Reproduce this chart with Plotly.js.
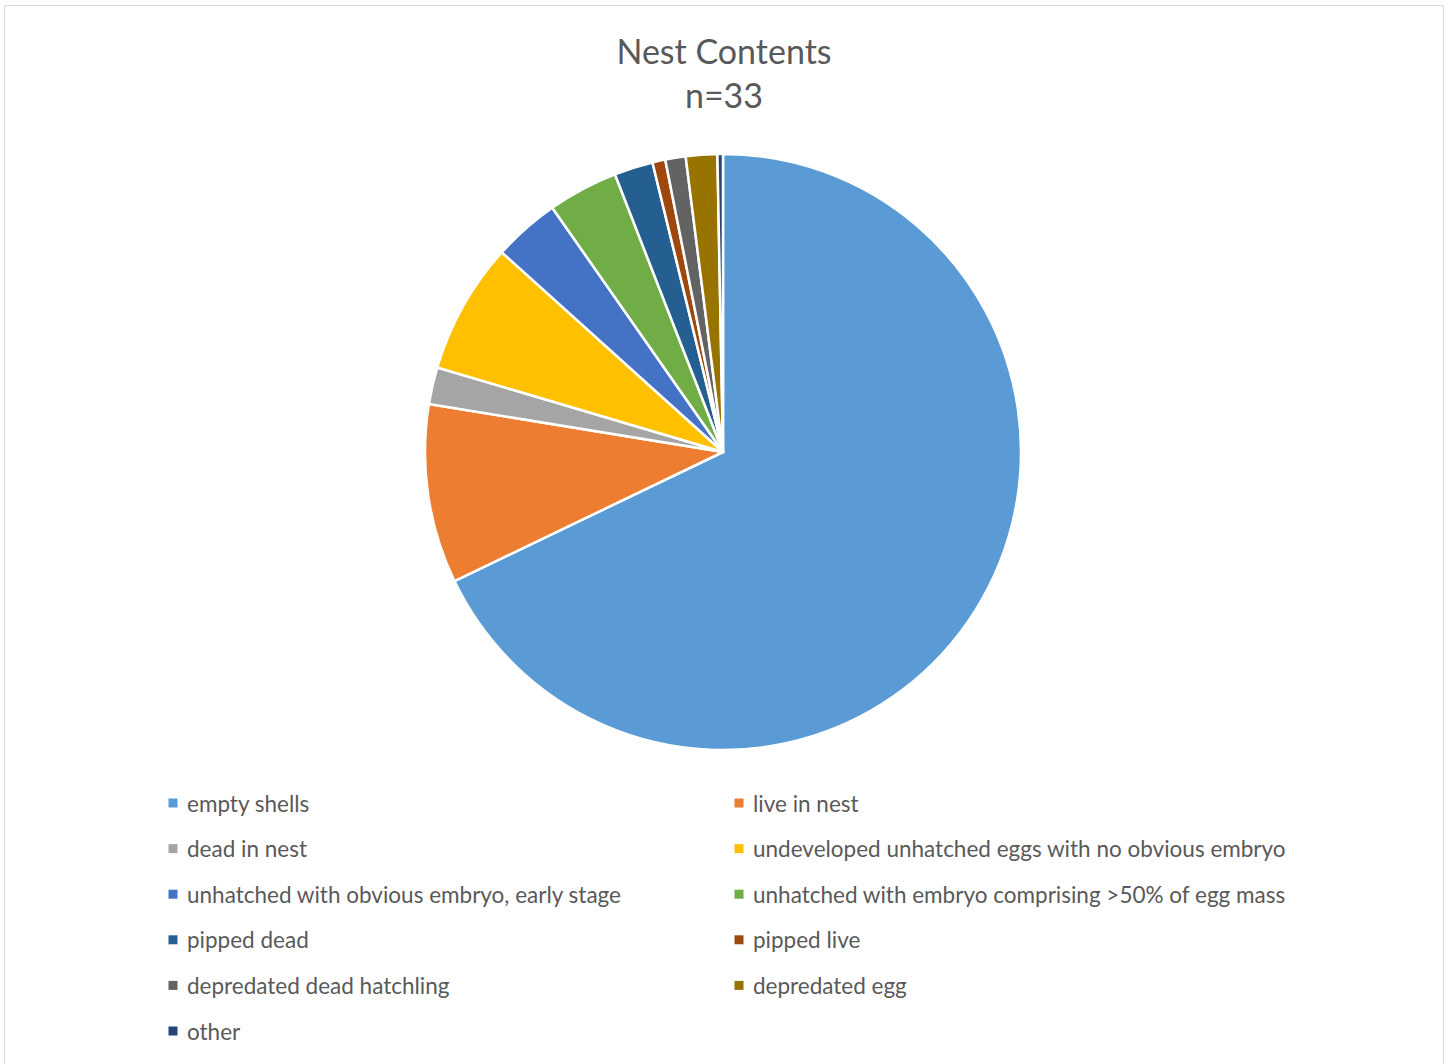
<!DOCTYPE html>
<html>
<head>
<meta charset="utf-8">
<script src="https://cdn.plot.ly/plotly-3.0.1.min.js"></script>
<style>body{margin:0;background:#fff;}#chart{width:1448px;height:1064px;}</style>
</head>
<body>
<div id="chart"></div>
<script>
const labels = [
  "empty shells",
  "live in nest",
  "dead in nest",
  "undeveloped unhatched eggs with no obvious embryo",
  "unhatched with obvious embryo, early stage",
  "unhatched with embryo comprising >50% of egg mass",
  "pipped dead",
  "pipped live",
  "depredated dead hatchling",
  "depredated egg",
  "other"
];
const values = [67.8, 9.7, 2.0, 7.1, 3.6, 3.8, 2.1, 0.7, 1.1, 1.7, 0.3];
const colors = ["#5B9BD5", "#ED7D31", "#A5A5A5", "#FFC000", "#4472C4", "#70AD47",
                "#255E91", "#9E480E", "#636363", "#997300", "#264478"];
const titleText = "Nest Contents<br>n=33";

const W = 1448, H = 1064;
const ml = 425, mr = 427, mt = 154, mb = 314;
const pw = W - ml - mr, ph = H - mt - mb;
const px2x = p => (p - ml) / pw;
const py2y = p => 1 - (p - mt) / ph;

const FONT = "Lato, 'Open Sans', sans-serif";
const shapes = [{
  type: "rect", xref: "paper", yref: "paper",
  x0: px2x(4.5), x1: px2x(1443.5), y0: py2y(1070), y1: py2y(5.5),
  line: {color: "#d9d9d9", width: 1}, fillcolor: "rgba(0,0,0,0)", layer: "below"
}];
const annotations = [];
const colMarker = [173, 739], colText = [185, 751];
const row0 = 803, rowGap = 45.6, sq = 4.5;
labels.forEach((lab, i) => {
  const c = i % 2, r = Math.floor(i / 2);
  const cy = row0 + r * rowGap;
  shapes.push({
    type: "rect", xref: "paper", yref: "paper",
    x0: px2x(colMarker[c] - sq), x1: px2x(colMarker[c] + sq),
    y0: py2y(cy + sq), y1: py2y(cy - sq),
    line: {width: 0}, fillcolor: colors[i]
  });
  annotations.push({
    xref: "paper", yref: "paper", x: px2x(colText[c]), y: py2y(cy),
    xanchor: "left", yanchor: "middle", showarrow: false,
    text: lab.replace(/>/g, "&gt;"),
    font: {family: FONT, size: 22.5, color: "#595959"}
  });
});

const data = [{
  type: "pie",
  labels: labels,
  values: values,
  sort: false,
  direction: "clockwise",
  rotation: 0,
  marker: {colors: colors, line: {color: "#ffffff", width: 2.5}},
  textinfo: "none",
  hoverinfo: "label+percent",
  showlegend: false
}];

const layout = {
  width: W, height: H,
  margin: {l: ml, r: mr, t: mt, b: mb, pad: 0},
  paper_bgcolor: "#ffffff",
  plot_bgcolor: "#ffffff",
  showlegend: false,
  title: {
    text: titleText,
    x: 0.5, xref: "container", xanchor: "center",
    y: 1 - 64 / H, yref: "container", yanchor: "middle",
    font: {family: FONT, size: 34, color: "#595959"}
  },
  shapes: shapes,
  annotations: annotations
};

Plotly.newPlot("chart", data, layout, {displayModeBar: false, staticPlot: true});
</script>
</body>
</html>
